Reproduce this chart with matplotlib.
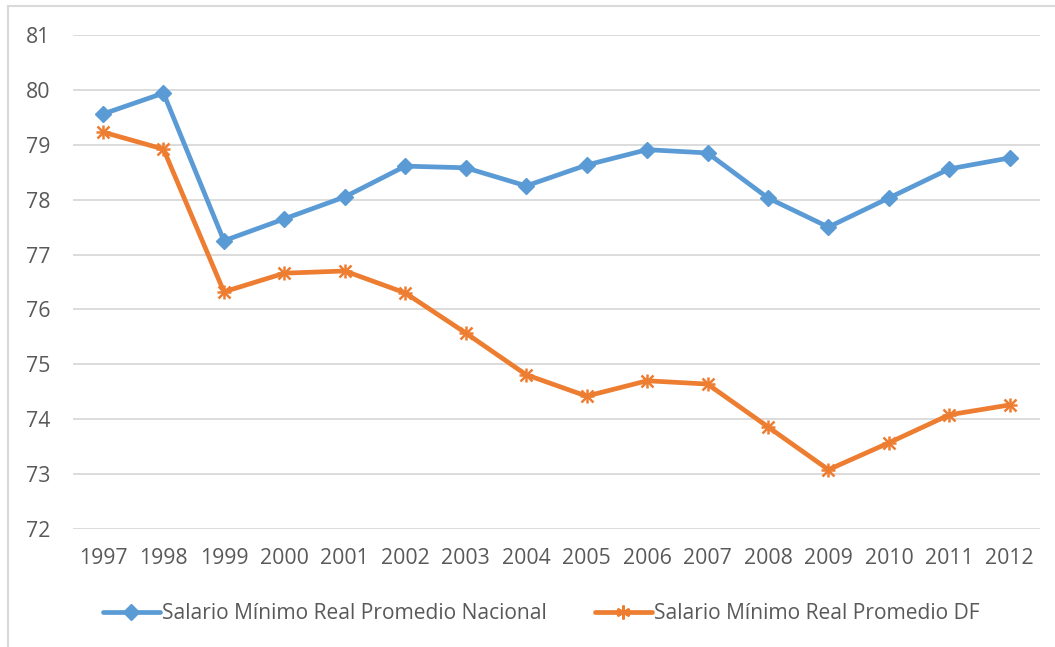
import matplotlib
matplotlib.use("Agg")
import matplotlib.pyplot as plt
from matplotlib.lines import Line2D

years = ["1997", "1998", "1999", "2000", "2001", "2002", "2003", "2004",
         "2005", "2006", "2007", "2008", "2009", "2010", "2011", "2012"]
nacional = [79.56, 79.94, 77.25, 77.65, 78.05, 78.61, 78.58, 78.25,
            78.63, 78.91, 78.85, 78.03, 77.50, 78.03, 78.56, 78.76]
df = [79.23, 78.92, 76.32, 76.66, 76.70, 76.30, 75.57, 74.81,
      74.42, 74.70, 74.64, 73.86, 73.08, 73.57, 74.08, 74.26]
yticks = [72, 73, 74, 75, 76, 77, 78, 79, 80, 81]
label_nac = "Salario Mínimo Real Promedio Nacional"
label_df = "Salario Mínimo Real Promedio DF"

plt.rcParams['font.family'] = ['Open Sans', 'DejaVu Sans']
txt = '#595959'
blue = '#5B9BD5'
orange = '#ED7D31'

fig = plt.figure(figsize=(10.55, 6.47), dpi=100)
ax = fig.add_axes([0.069, 0.1824, 0.9168, 0.7636])

x = list(range(len(years)))
ax.plot(x, nacional, color=blue, lw=3.4, marker='D', ms=8.5,
        solid_joinstyle='round', solid_capstyle='round', label=label_nac)
ax.plot(x, df, color=orange, lw=3.4, marker='x', ms=9, mew=1.8,
        solid_joinstyle='round', solid_capstyle='round', label=label_df)
ax.plot(x, df, color=orange, lw=0, marker='+', ms=10, mew=1.8)

ax.set_xlim(-0.5, len(years) - 0.5)
ax.set_ylim(72, 81)
ax.set_yticks(yticks)
ax.set_yticklabels([str(v) for v in yticks])
ax.set_xticks(x)
ax.set_xticklabels(years)
ax.grid(axis='y', color='#D9D9D9', lw=1.3)
ax.set_axisbelow(True)
for s in ax.spines.values():
    s.set_visible(False)
ax.tick_params(axis='both', length=0, labelsize=15.3, colors=txt)
ax.tick_params(axis='y', pad=16)
ax.tick_params(axis='x', pad=14)

h1 = Line2D([], [], color=blue, lw=3.4, marker='D', ms=8.5, solid_capstyle='round')
h2 = Line2D([], [], color=orange, lw=3.4, marker=(6, 2, 0), ms=10, mew=1.8, solid_capstyle='round')
leg = fig.legend([h1, h2], [label_nac, label_df], loc='center',
                 bbox_to_anchor=(0.513, 0.052), ncol=2, frameon=False,
                 fontsize=15.1, handlelength=2.7, handletextpad=0.1,
                 columnspacing=2.3, labelcolor=txt)

# chart area border (top and left visible)
fig.add_artist(Line2D([8 / 1055, 8 / 1055], [1 - 6 / 647, 0], transform=fig.transFigure,
                      color='#D9D9D9', lw=1.5))
fig.add_artist(Line2D([8 / 1055, 1], [1 - 6 / 647, 1 - 6 / 647], transform=fig.transFigure,
                      color='#D9D9D9', lw=1.5))

fig.savefig('out.png', dpi=100)
